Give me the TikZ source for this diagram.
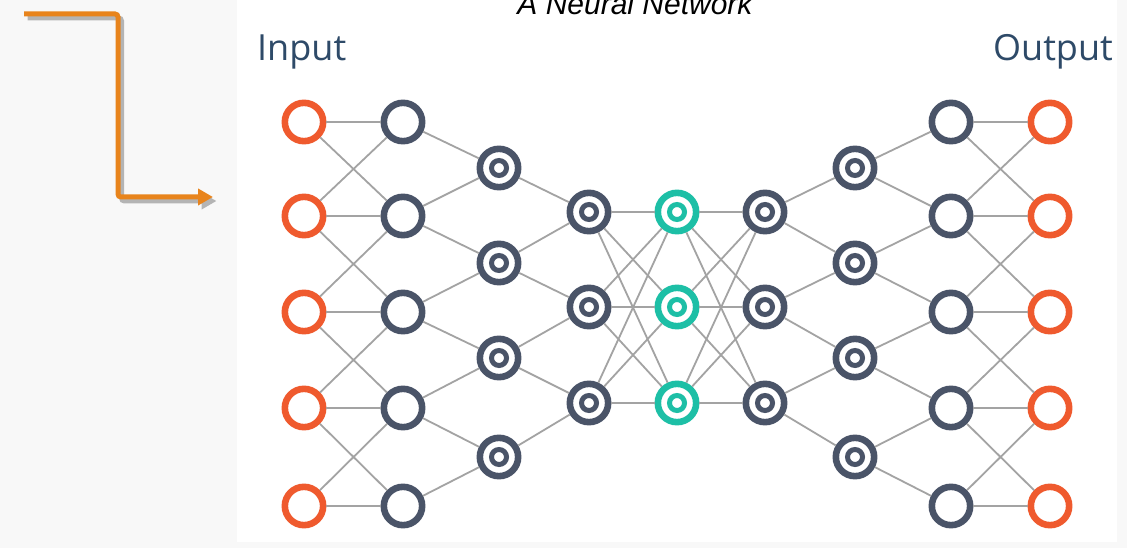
\documentclass[tikz,border=0pt]{standalone}
\usepackage{fontspec}
\setmainfont{Liberation Sans}
\newfontfamily\labelfont{Open Sans}
\usetikzlibrary{arrows.meta}
\definecolor{pagegray}{HTML}{F8F8F8}
\definecolor{nodered}{HTML}{EF5A2E}
\definecolor{nodedark}{HTML}{4A5468}
\definecolor{nodeteal}{HTML}{1DBFA6}
\definecolor{edgegray}{HTML}{A3A3A3}
\definecolor{labelblue}{HTML}{2E4A68}
\definecolor{arroworange}{HTML}{E8841C}
\definecolor{shadowgray}{HTML}{B4B4B4}
\tikzset{
  neuron/.style={circle, draw=#1, fill=white, line width=6.6pt, minimum size=38.3pt, inner sep=0pt},
  plainunit/.style={neuron=#1},
  ringunit/.style={neuron=#1,
    path picture={\draw[#1, line width=5pt] (path picture bounding box.center) circle (7.5pt);}},
  link/.style={draw=edgegray, line width=1.8pt},
  sidelabel/.style={font=\labelfont\fontsize{36}{40}\selectfont, text=labelblue, inner sep=0pt},
  flowarrow/.style={line width=5pt, rounded corners=3pt, -{Triangle[length=15pt,width=16pt]}},
}
\begin{document}
\begin{tikzpicture}[x=1pt,y=-1pt]
\useasboundingbox (0,0) rectangle (1127,548);
\fill[pagegray] (0,0) rectangle (1127,548);
\fill[white] (237,0) rectangle (1117,542);

% orange arrow with shadow
\coordinate (as) at (24,14);
\coordinate (ac) at (118,14);
\coordinate (ad) at (118,197);
\coordinate (ae) at (213,197);
\begin{scope}[transform canvas={shift={(3.5pt,-4pt)}}]
\draw[flowarrow, shadowgray] (as) -- (ac) -- (ad) -- (ae);
\end{scope}
\draw[flowarrow, arroworange] (as) -- (ac) -- (ad) -- (ae);

% title and labels
\node[anchor=base, font=\fontsize{30}{36}\selectfont\itshape, inner sep=0pt] (title) at (635,15) {A Neural Network};
\node[sidelabel, anchor=base west] (inlabel) at (257,61) {Input};
\node[sidelabel, anchor=base east] (outlabel) at (1113,61) {Output};

% nodes
\foreach \n/\y in {1/122,2/216,3/312,4/408,5/506} {
  \node[plainunit=nodered] (i\n) at (304,\y) {};
  \node[plainunit=nodedark] (a\n) at (403,\y) {};
  \node[plainunit=nodedark] (g\n) at (951,\y) {};
  \node[plainunit=nodered] (o\n) at (1050,\y) {};
}
\foreach \n/\y in {1/168,2/263,3/358,4/457} {
  \node[ringunit=nodedark] (b\n) at (499,\y) {};
  \node[ringunit=nodedark] (f\n) at (855,\y) {};
}
\foreach \n/\y in {1/212,2/307,3/403} {
  \node[ringunit=nodedark] (c\n) at (589,\y) {};
  \node[ringunit=nodeteal] (d\n) at (677,\y) {};
  \node[ringunit=nodedark] (e\n) at (765,\y) {};
}

% connectors
\foreach \s/\t in {i1/a1,i1/a2,i2/a1,i2/a2,i2/a3,i3/a2,i3/a3,i3/a4,i4/a3,i4/a4,i4/a5,i5/a4,i5/a5,
  a1/b1,a2/b1,a2/b2,a3/b2,a3/b3,a4/b3,a4/b4,a5/b4,
  b1/c1,b2/c1,b2/c2,b3/c2,b3/c3,b4/c3,
  c1/d1,c1/d2,c1/d3,c2/d1,c2/d2,c2/d3,c3/d1,c3/d2,c3/d3,
  d1/e1,d1/e2,d1/e3,d2/e1,d2/e2,d2/e3,d3/e1,d3/e2,d3/e3,
  e1/f1,e1/f2,e2/f2,e2/f3,e3/f3,e3/f4,
  f1/g1,f1/g2,f2/g2,f2/g3,f3/g3,f3/g4,f4/g4,f4/g5,
  g1/o1,g1/o2,g2/o1,g2/o2,g2/o3,g3/o2,g3/o3,g3/o4,g4/o3,g4/o4,g4/o5,g5/o4,g5/o5} {
  \draw[link] (\s) -- (\t);
}
\end{tikzpicture}
\end{document}
